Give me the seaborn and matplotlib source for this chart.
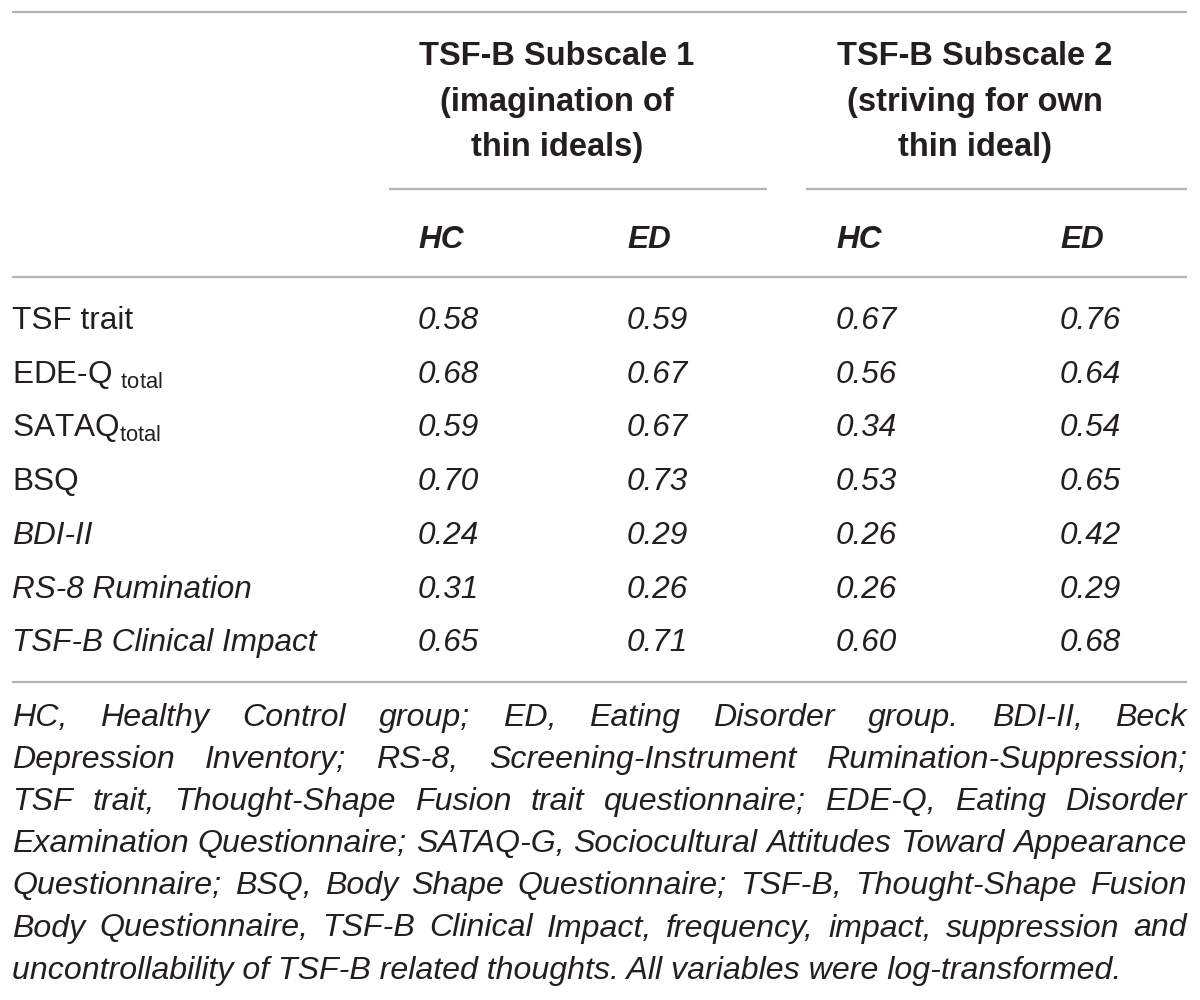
import matplotlib
matplotlib.use("Agg")
import matplotlib.pyplot as plt
import seaborn as sns
from matplotlib import font_manager

# ---------------- data ----------------
row_labels = ["TSF trait", r"EDE-Q ${}_{\mathrm{total}}$", r"SATAQ${}_{\mathrm{total}}$", "BSQ",
              "BDI-II", "RS-8 Rumination", "TSF-B Clinical Impact"]
row_italic = [False, False, False, False, True, True, True]
hc_sub1 = [0.58, 0.68, 0.59, 0.70, 0.24, 0.31, 0.65]
ed_sub1 = [0.59, 0.67, 0.67, 0.73, 0.29, 0.26, 0.71]
hc_sub2 = [0.67, 0.56, 0.34, 0.53, 0.26, 0.26, 0.60]
ed_sub2 = [0.76, 0.64, 0.54, 0.65, 0.42, 0.29, 0.68]
group_titles = [["TSF-B Subscale 1", "(imagination of", "thin ideals)"],
                ["TSF-B Subscale 2", "(striving for own", "thin ideal)"]]
sub_headers = ["HC", "ED", "HC", "ED"]
footnote_lines = [
    "HC, Healthy Control group; ED, Eating Disorder group. BDI-II, Beck",
    "Depression Inventory; RS-8, Screening-Instrument Rumination-Suppression;",
    "TSF trait, Thought-Shape Fusion trait questionnaire; EDE-Q, Eating Disorder",
    "Examination Questionnaire; SATAQ-G, Sociocultural Attitudes Toward Appearance",
    "Questionnaire; BSQ, Body Shape Questionnaire; TSF-B, Thought-Shape Fusion",
    "Body Questionnaire, TSF-B Clinical Impact, frequency, impact, suppression and",
    "uncontrollability of TSF-B related thoughts. All variables were log-transformed.",
]

# ---------------- style ----------------
sns.set_theme(style="white")
names = {f.name for f in font_manager.fontManager.ttflist}
if "Liberation Sans Narrow" in names:
    FONT, SCALE = "Liberation Sans Narrow", 1.0
else:
    FONT, SCALE = "Liberation Sans", 0.84
plt.rcParams["font.family"] = [FONT, "DejaVu Sans"]
plt.rcParams["mathtext.fontset"] = "custom"
plt.rcParams["mathtext.rm"] = FONT
plt.rcParams["mathtext.it"] = FONT + ":italic"
plt.rcParams["mathtext.bf"] = FONT + ":bold"

TXT = "#231f20"
RULE = "#b4b4b4"
BODY = 27 * SCALE
HEAD = 28 * SCALE

fig = plt.figure(figsize=(12, 10), dpi=100)
ax = fig.add_axes([0, 0, 1, 1])
ax.set_xlim(0, 1200)
ax.set_ylim(1000, 0)
ax.set_axis_off()

x_left, x_right = 12, 1187
# rules
for y in (12, 277, 682):
    ax.plot([x_left, x_right], [y, y], color=RULE, lw=1.6, solid_capstyle="butt")
ax.plot([389, 767], [189, 189], color=RULE, lw=1.6, solid_capstyle="butt")
ax.plot([806, 1187], [189, 189], color=RULE, lw=1.6, solid_capstyle="butt")

# group headers
head_cx = [557, 975]
head_base = [65, 110.5, 156]
for cx, lines in zip(head_cx, group_titles):
    for yb, s in zip(head_base, lines):
        ax.text(cx, yb, s, ha="center", va="baseline", fontsize=HEAD,
                fontweight="bold", color=TXT)

col_x = [418, 627, 836, 1060]
for x, s in zip(col_x, sub_headers):
    ax.text(x, 248, s, ha="left", va="baseline", fontsize=BODY,
            fontweight="bold", fontstyle="italic", color=TXT)

# body rows
columns = [hc_sub1, ed_sub1, hc_sub2, ed_sub2]
row_base0, row_pitch = 329, 53.7
for i, (lab, it) in enumerate(zip(row_labels, row_italic)):
    yb = row_base0 + i * row_pitch
    ax.text(x_left, yb, lab, ha="left", va="baseline", fontsize=BODY,
            fontstyle="italic" if it else "normal", color=TXT)
    for x, col in zip(col_x, columns):
        ax.text(x, yb, f"{col[i]:.2f}", ha="left", va="baseline", fontsize=BODY,
                fontstyle="italic", color=TXT)

# footnote, justified
fig.canvas.draw()
rend = fig.canvas.get_renderer()

def width(s, fs):
    t = ax.text(0, 500, s, fontsize=fs, fontstyle="italic")
    w = t.get_window_extent(rend).width
    t.remove()
    return w

fs_ref = 20
w_last = width(footnote_lines[-1], fs_ref)
FOOT = fs_ref * (1120 - x_left) / w_last

foot_base0, foot_pitch = 726, 42.1
for i, line in enumerate(footnote_lines):
    yb = foot_base0 + i * foot_pitch
    if i == len(footnote_lines) - 1:
        ax.text(x_left, yb, line, ha="left", va="baseline", fontsize=FOOT,
                fontstyle="italic", color=TXT)
        continue
    words = line.split(" ")
    ws = [width(w, FOOT) for w in words]
    gap = (x_right - x_left - sum(ws)) / (len(words) - 1)
    x = x_left
    for w, wd in zip(words, ws):
        ax.text(x, yb, w, ha="left", va="baseline", fontsize=FOOT,
                fontstyle="italic", color=TXT)
        x += wd + gap

fig.savefig("out.png", dpi=100, facecolor="white")
